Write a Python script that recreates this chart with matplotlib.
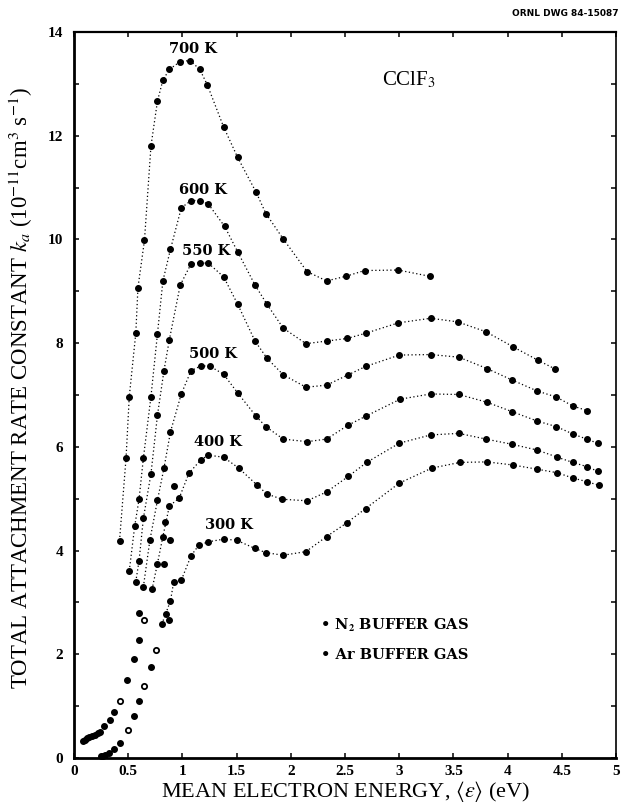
import matplotlib.pyplot as plt
from matplotlib.ticker import MultipleLocator, FuncFormatter

plt.rcParams['mathtext.fontset'] = 'stix'

# Total attachment rate constant k_a (1e-11 cm^3 s^-1) vs mean electron energy (eV), CClF3
e700 = [0.42, 0.48, 0.51, 0.57, 0.59, 0.65, 0.71, 0.77, 0.82, 0.88, 0.98, 1.07, 1.16,
        1.23, 1.38, 1.51, 1.68, 1.77, 1.93, 2.15, 2.33, 2.51, 2.68, 2.99, 3.28]
k700 = [4.19, 5.78, 6.97, 8.19, 9.07, 9.98, 11.80, 12.67, 13.07, 13.28, 13.43, 13.45, 13.28,
        12.98, 12.17, 11.58, 10.91, 10.50, 10.01, 9.38, 9.20, 9.29, 9.40, 9.41, 9.29]

e600 = [0.51, 0.56, 0.60, 0.64, 0.71, 0.77, 0.82, 0.89, 0.99, 1.08, 1.16, 1.24, 1.39, 1.51,
        1.67, 1.78, 1.93, 2.14, 2.33, 2.52, 2.69, 2.99, 3.29, 3.54, 3.80, 4.05, 4.28, 4.44]
k600 = [3.61, 4.47, 4.99, 5.78, 6.97, 8.18, 9.20, 9.81, 10.61, 10.75, 10.75, 10.68, 10.25, 9.76,
        9.12, 8.75, 8.29, 7.99, 8.04, 8.09, 8.19, 8.39, 8.48, 8.41, 8.22, 7.93, 7.67, 7.50]

e550 = [0.57, 0.60, 0.64, 0.71, 0.77, 0.83, 0.88, 0.98, 1.08, 1.16, 1.24, 1.38, 1.51, 1.67, 1.78,
        1.93, 2.14, 2.33, 2.53, 2.69, 3.00, 3.29, 3.55, 3.81, 4.04, 4.27, 4.45, 4.60, 4.73]
k550 = [3.40, 3.80, 4.62, 5.48, 6.61, 7.47, 8.07, 9.12, 9.53, 9.55, 9.54, 9.28, 8.75, 8.04, 7.71,
        7.39, 7.15, 7.19, 7.39, 7.55, 7.77, 7.78, 7.73, 7.51, 7.29, 7.08, 6.96, 6.79, 6.70]

e500 = [0.64, 0.70, 0.77, 0.83, 0.89, 0.99, 1.08, 1.17, 1.25, 1.38, 1.51, 1.68, 1.77, 1.93,
        2.15, 2.33, 2.53, 2.69, 3.01, 3.29, 3.55, 3.81, 4.04, 4.27, 4.45, 4.60, 4.73, 4.83]
k500 = [3.30, 4.20, 4.97, 5.59, 6.29, 7.02, 7.47, 7.56, 7.56, 7.40, 7.04, 6.59, 6.39, 6.15,
        6.10, 6.15, 6.42, 6.59, 6.92, 7.02, 7.01, 6.86, 6.68, 6.50, 6.39, 6.25, 6.15, 6.07]

e400 = [0.72, 0.77, 0.82, 0.88, 0.97, 1.06, 1.17, 1.24, 1.38, 1.52, 1.69, 1.78, 1.92, 2.15,
        2.33, 2.53, 2.70, 3.00, 3.29, 3.55, 3.80, 4.04, 4.27, 4.46, 4.60, 4.73, 4.83]
k400 = [3.25, 3.75, 4.27, 4.86, 5.01, 5.49, 5.75, 5.84, 5.80, 5.59, 5.26, 5.09, 4.99, 4.96,
        5.13, 5.43, 5.70, 6.07, 6.23, 6.26, 6.15, 6.05, 5.94, 5.80, 5.70, 5.62, 5.53]

e300 = [0.81, 0.89, 0.92, 0.99, 1.08, 1.15, 1.24, 1.38, 1.50, 1.67, 1.77, 1.93, 2.14,
        2.33, 2.52, 2.69, 3.00, 3.30, 3.56, 3.81, 4.05, 4.27, 4.46, 4.60, 4.73, 4.84]
k300 = [2.58, 3.03, 3.40, 3.43, 3.90, 4.10, 4.17, 4.22, 4.20, 4.04, 3.96, 3.91, 3.98,
        4.27, 4.54, 4.81, 5.30, 5.59, 5.70, 5.71, 5.65, 5.57, 5.50, 5.40, 5.33, 5.26]

# loose low-energy points (no connecting line)
dot_e = [0.08, 0.10, 0.12, 0.14, 0.17, 0.19, 0.22, 0.24, 0.28, 0.33, 0.37, 0.49, 0.55, 0.60,
         0.60, 0.25, 0.27, 0.29, 0.32, 0.37, 0.42, 0.55, 0.60, 0.71, 0.83, 0.89, 0.84, 0.92,
         0.85, 0.88]
dot_k = [0.33, 0.35, 0.38, 0.40, 0.43, 0.45, 0.48, 0.51, 0.62, 0.73, 0.89, 1.50, 1.90, 2.28,
         2.79, 0.03, 0.04, 0.06, 0.10, 0.17, 0.28, 0.81, 1.10, 1.76, 3.75, 4.20, 4.56, 5.24,
         2.77, 2.67]
ring_e = [0.42, 0.50, 0.65, 0.76, 0.65]
ring_k = [1.10, 0.54, 1.39, 2.08, 2.66]

temps = ['700 K', '600 K', '550 K', '500 K', '400 K', '300 K']
curves = [(e700, k700), (e600, k600), (e550, k550), (e500, k500), (e400, k400), (e300, k300)]
label_pos = [(1.10, 13.68), (1.19, 10.95), (1.22, 9.78), (1.28, 7.79), (1.33, 6.09), (1.43, 4.49)]

fig = plt.figure(figsize=(6.22, 8.07), dpi=100)
ax = fig.add_axes([74 / 622, 49 / 807, 542 / 622, 726 / 807])

for (e, k), name, (tx, ty) in zip(curves, temps, label_pos):
    ax.plot(e, k, color='black', lw=0.9, ls=(0, (1, 2)), marker='o', ms=4.0,
            mfc='black', mec='black', clip_on=False)
    ax.text(tx, ty, name, ha='center', va='center', fontsize=10.5,
            family='DejaVu Serif', weight='bold')

ax.plot(dot_e, dot_k, 'o', color='black', ms=4.0, ls='none', clip_on=False)
ax.plot(ring_e, ring_k, 'o', mfc='white', mec='black', mew=1.3, ms=3.8, ls='none', clip_on=False)

ax.text(3.09, 13.07, 'CClF$_3$', ha='center', va='center', fontsize=15, family='Liberation Serif')
ax.text(2.27, 2.56, '• N$_\\mathbf{2}$ BUFFER GAS', ha='left', va='center', fontsize=10.5,
        family='DejaVu Serif', weight='bold')
ax.text(2.28, 1.99, '• Ar BUFFER GAS', ha='left', va='center', fontsize=10.5,
        family='DejaVu Serif', weight='bold')

ax.set_xlim(0, 5)
ax.set_ylim(0, 14)
ax.xaxis.set_major_locator(MultipleLocator(0.5))
ax.xaxis.set_major_formatter(FuncFormatter(lambda v, p: '%g' % v))
ax.yaxis.set_major_locator(MultipleLocator(2))
ax.yaxis.set_minor_locator(MultipleLocator(1))
ax.tick_params(which='both', direction='in', top=True, right=True, length=3.8, width=1.1)
ax.tick_params(axis='x', pad=5)
ax.tick_params(axis='y', pad=8)
ax.tick_params(labelsize=11)
for lab in ax.get_xticklabels() + ax.get_yticklabels():
    lab.set_family('Liberation Serif')
    lab.set_weight('bold')

ax.spines['left'].set_linewidth(2.0)
ax.spines['bottom'].set_linewidth(2.0)
ax.spines['top'].set_linewidth(1.6)
ax.spines['right'].set_linewidth(1.2)

fig.text(346 / 622, 1 - 792 / 807, 'MEAN ELECTRON ENERGY, $\\langle\\varepsilon\\rangle$ (eV)',
         ha='center', va='center', fontsize=16, family='Liberation Serif')
fig.text(21 / 622, 1 - 388 / 807,
         'TOTAL ATTACHMENT RATE CONSTANT $k_a$ (10$^{-11}$cm$^3$ s$^{-1}$)',
         ha='center', va='center', rotation=90, fontsize=16.5, family='Liberation Serif')
fig.text(512 / 622, 1 - 13 / 807, 'ORNL DWG 84-15087', ha='left', va='center',
         fontsize=6.5, weight='bold')

fig.savefig('out.png', dpi=100)
